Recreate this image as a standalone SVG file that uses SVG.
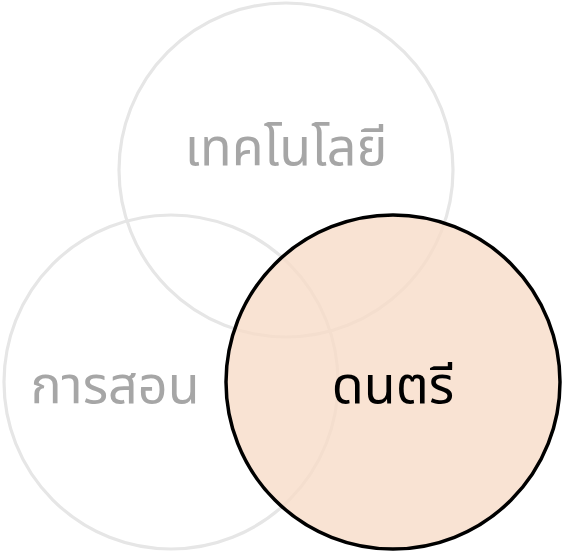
<svg xmlns="http://www.w3.org/2000/svg" width="563" height="552" viewBox="0 0 563 552">
<style>
.bg{fill:none;stroke:#e6e6e6;stroke-width:3.2}
.lbl{font-family:"Noto Sans Thai","Noto Sans","Open Sans","DejaVu Sans",sans-serif;font-size:52px;text-anchor:middle}
.muted{fill:#a6a6a6}
</style>
<rect width="563" height="552" fill="#ffffff"/>
<g id="tech">
<circle class="bg" cx="286" cy="170" r="167"/>
<text class="lbl muted" x="286" y="165">เทคโนโลยี</text>
</g>
<g id="teach">
<circle class="bg" cx="171" cy="382" r="167"/>
<text class="lbl muted" x="115" y="403">การสอน</text>
</g>
<g id="music">
<circle cx="393" cy="382" r="167" fill="#f8dcc8" fill-opacity="0.8" stroke="#000000" stroke-width="3.5"/>
<text class="lbl" x="393" y="403" fill="#000000">ดนตรี</text>
</g>
<g id="connectors"></g>
</svg>
